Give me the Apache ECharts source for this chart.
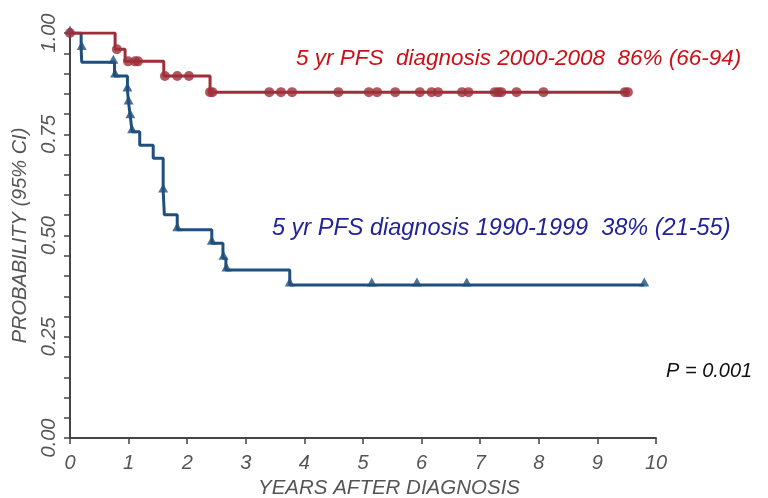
<!DOCTYPE html>
<html>
<head>
<meta charset="utf-8">
<script src="https://cdn.jsdelivr.net/npm/echarts@6/dist/echarts.min.js"></script>
<style>html,body{margin:0;padding:0;background:#fff}#c{width:768px;height:498px}</style>
</head>
<body>
<div id="c"></div>
<script>
// Kaplan-Meier steps: time (years) and survival level reached at that time
const redTimes = [0, 0.77, 0.94, 1.60, 2.39, 9.52];
const redSurv  = [1.000, 0.960, 0.930, 0.894, 0.854, 0.854];
const redCensorTimes = [0, 0.80, 0.99, 1.11, 1.16, 1.62, 1.83, 2.03, 2.39, 2.43, 3.40, 3.60, 3.79, 4.58, 5.10, 5.24, 5.55, 5.97, 6.17, 6.28, 6.69, 6.80, 7.25, 7.31, 7.36, 7.62, 8.08, 9.47, 9.52];
const redCensorSurv  = [1.000, 0.960, 0.930, 0.930, 0.930, 0.894, 0.894, 0.894, 0.854, 0.854, 0.854, 0.854, 0.854, 0.854, 0.854, 0.854, 0.854, 0.854, 0.854, 0.854, 0.854, 0.854, 0.854, 0.854, 0.854, 0.854, 0.854, 0.854, 0.854];

const blueTimes = [0, 0.19, 0.20, 0.76, 0.98, 1.00, 1.03, 1.06, 1.19, 1.42, 1.59, 1.61, 1.83, 2.42, 2.61, 2.66, 3.75, 9.80];
const blueSurv  = [1.000, 0.962, 0.928, 0.894, 0.859, 0.827, 0.793, 0.756, 0.723, 0.691, 0.610, 0.551, 0.514, 0.481, 0.444, 0.415, 0.378, 0.378];
const blueCensorTimes = [0, 0.20, 0.74, 0.77, 0.98, 1.00, 1.03, 1.06, 1.59, 1.83, 2.42, 2.62, 2.67, 3.75, 5.15, 5.92, 6.77, 9.80];
const blueCensorSurv  = [1.000, 0.962, 0.928, 0.894, 0.859, 0.827, 0.793, 0.756, 0.610, 0.514, 0.481, 0.444, 0.415, 0.378, 0.378, 0.378, 0.378, 0.378];

const xTicks = [0,1,2,3,4,5,6,7,8,9,10];
const yLabelValues = [0, 0.25, 0.5, 0.75, 1.0];

const redLabel = '5 yr PFS  diagnosis 2000-2008  86% (66-94)';
const blueLabel = '5 yr PFS diagnosis 1990-1999  38% (21-55)';
const pLabel = 'P = 0.001';

const zip = (a, b) => a.map((v, i) => [v, b[i]]);

const FONT = '"Liberation Sans", Arial, sans-serif';
const RED_LINE = '#9e2f3a';
const BLUE_LINE = '#1f4f7d';
const AXIS = '#444';
const LABEL = '#555';

const chart = echarts.init(document.getElementById('c'));
chart.setOption({
  animation: false,
  backgroundColor: '#fff',
  grid: {left: 70, right: 112, top: 33, bottom: 60, containLabel: false, outerBoundsMode: 'none'},
  xAxis: {
    type: 'value', min: 0, max: 10, interval: 1,
    axisLine: {lineStyle: {color: AXIS, width: 2}},
    axisTick: {length: 6, lineStyle: {color: AXIS, width: 1.5}},
    splitLine: {show: false},
    axisLabel: {color: LABEL, fontStyle: 'italic', fontFamily: FONT, fontSize: 20, margin: 15,
      formatter: v => xTicks.includes(v) ? String(v) : ''},
    name: 'YEARS AFTER DIAGNOSIS', nameLocation: 'middle', nameGap: 40,
    nameTextStyle: {color: LABEL, fontStyle: 'italic', fontFamily: FONT, fontSize: 20.5, padding: [0, 0, 0, 52]}
  },
  yAxis: {
    type: 'value', min: 0, max: 1, interval: 0.05,
    axisLine: {show: true, lineStyle: {color: AXIS, width: 2}},
    axisTick: {show: true, length: 6, lineStyle: {color: AXIS, width: 1.5}},
    splitLine: {show: false},
    axisLabel: {color: LABEL, fontStyle: 'italic', fontFamily: FONT, fontSize: 20, rotate: 90, margin: 11,
      formatter: v => yLabelValues.some(t => Math.abs(t - v) < 1e-6) ? v.toFixed(2) : ''},
    name: 'PROBABILITY (95% CI)', nameLocation: 'middle', nameGap: 40,
    nameTextStyle: {color: LABEL, fontStyle: 'italic', fontFamily: FONT, fontSize: 20}
  },
  series: [
    {type: 'line', step: 'end', data: zip(redTimes, redSurv), symbol: 'none',
      lineStyle: {color: RED_LINE, width: 3}, z: 3},
    {type: 'scatter', data: zip(redCensorTimes, redCensorSurv), symbol: 'circle', symbolSize: 10,
      itemStyle: {color: RED_LINE}, z: 4},
    {type: 'line', step: 'end', data: zip(blueTimes, blueSurv), symbol: 'none',
      lineStyle: {color: BLUE_LINE, width: 3}, z: 2},
    {type: 'scatter', data: zip(blueCensorTimes, blueCensorSurv), symbol: 'triangle', symbolSize: [10, 9],
      symbolOffset: [0, -3], itemStyle: {color: BLUE_LINE}, z: 2}
  ],
  graphic: [
    {type: 'text', left: 296, top: 47, style: {text: redLabel, fill: '#cc1016', font: 'italic 22.5px ' + FONT}},
    {type: 'text', left: 272, top: 217, style: {text: blueLabel, fill: '#22229a', font: 'italic 23.5px ' + FONT}},
    {type: 'text', left: 666, top: 361, style: {text: pLabel, fill: '#111', font: 'italic 20px ' + FONT}}
  ]
});
</script>
</body>
</html>
